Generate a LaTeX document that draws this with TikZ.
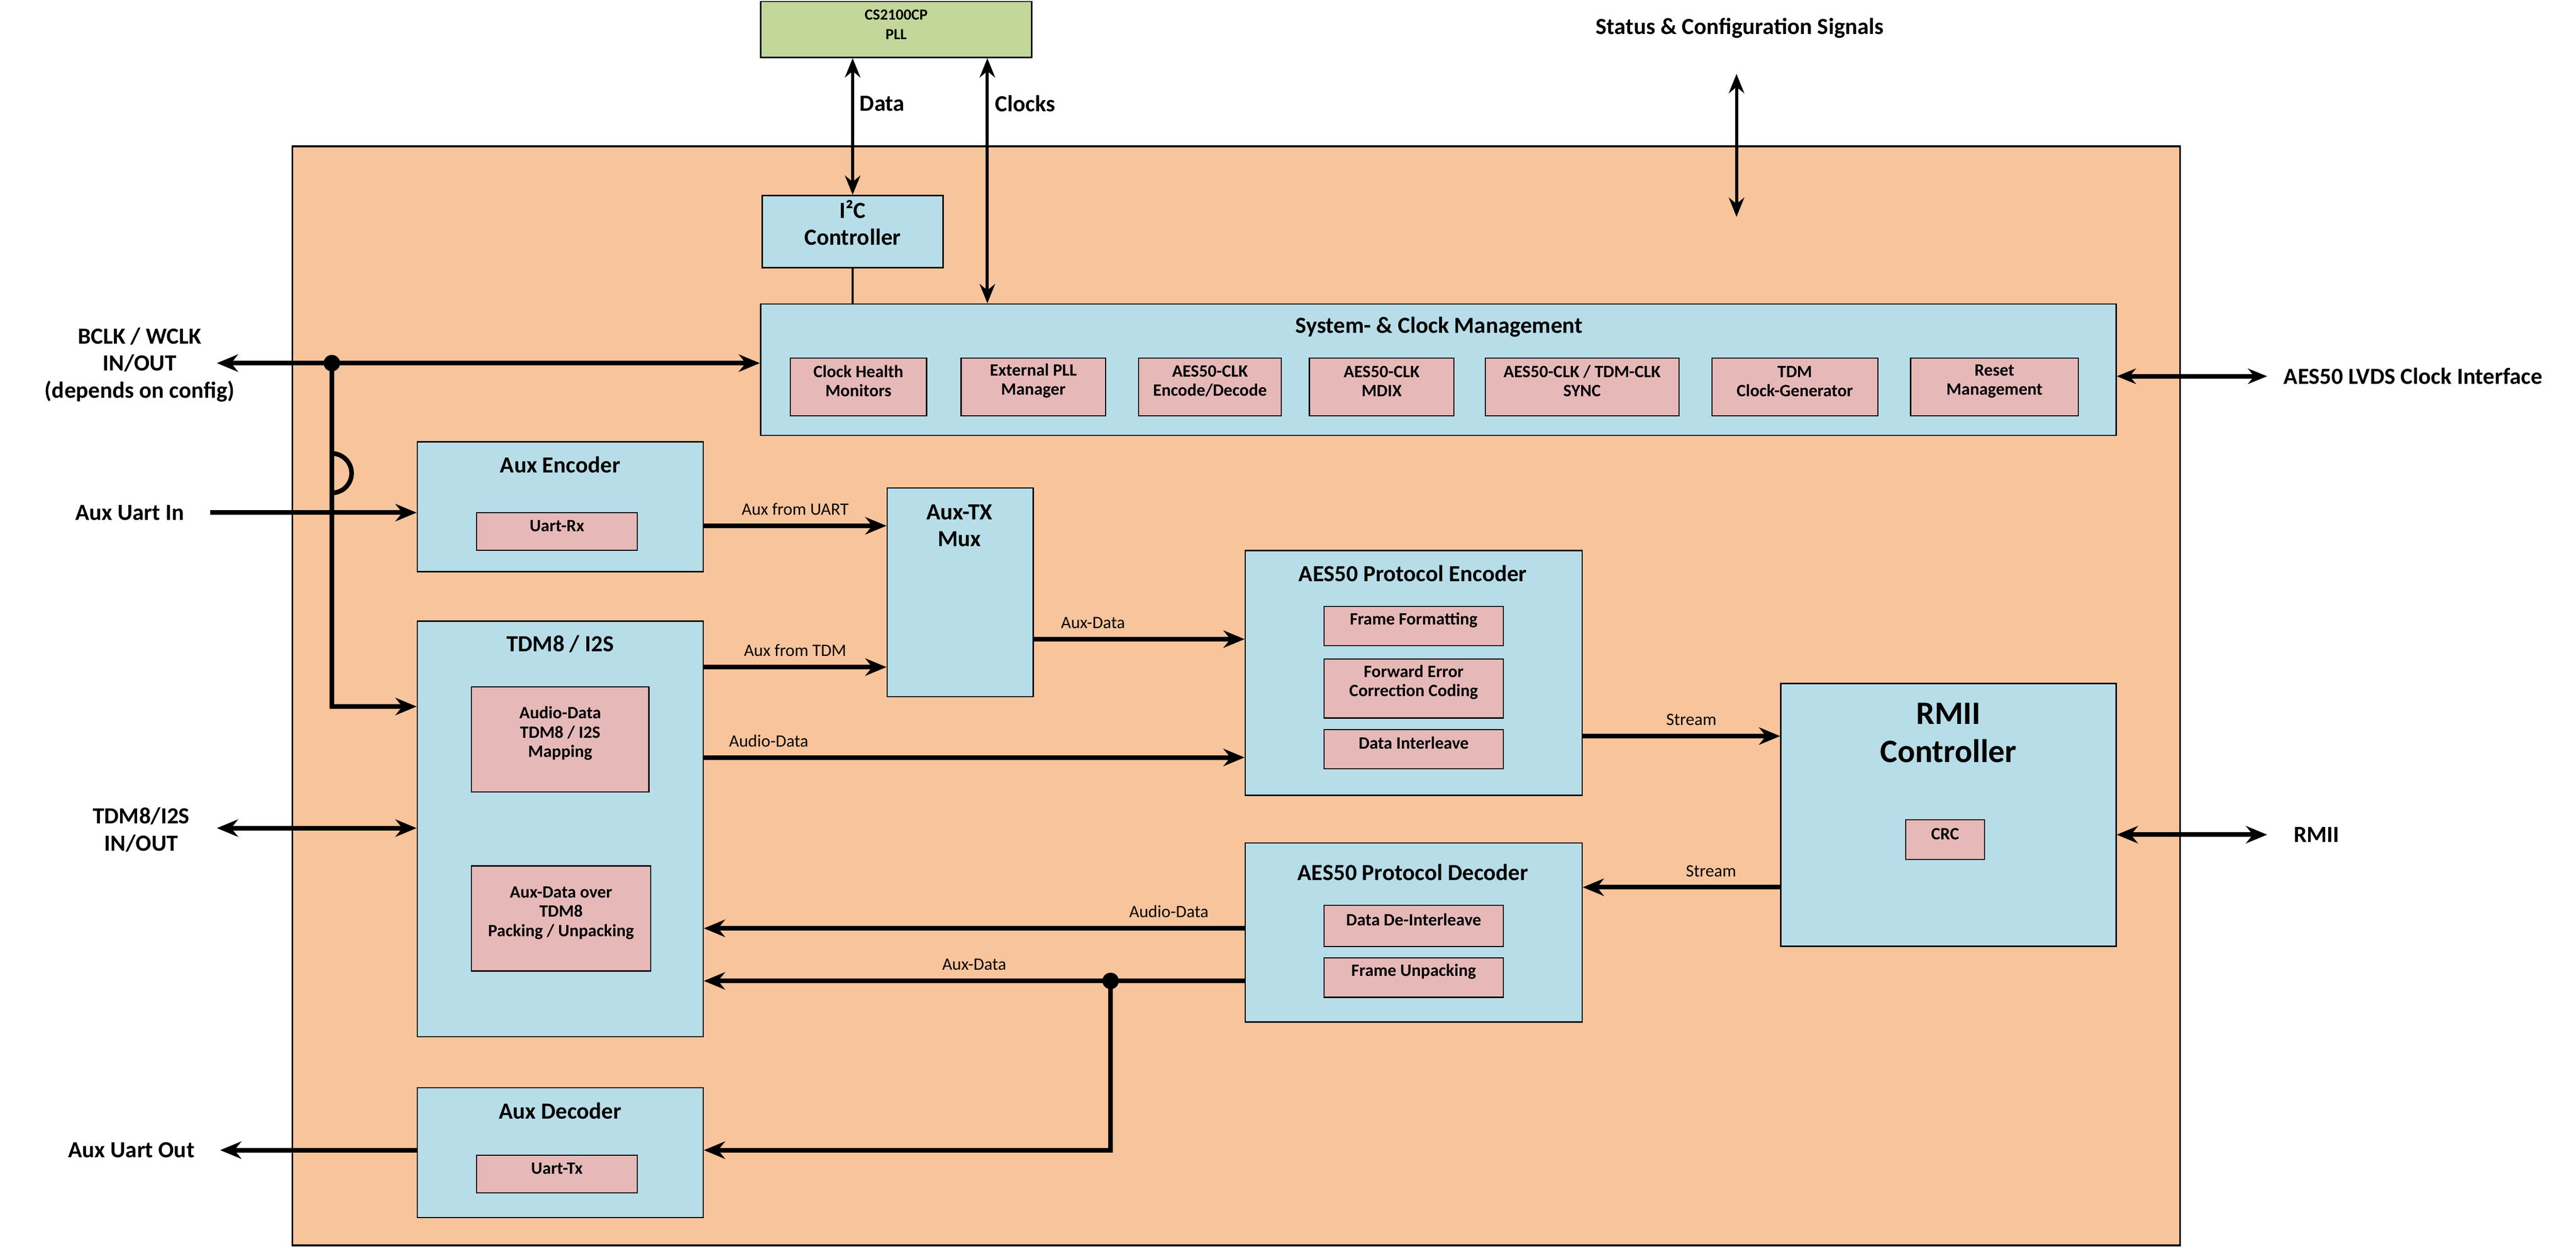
\documentclass[tikz,border=0pt]{standalone}
\usepackage{fontspec}
\setmainfont{Carlito}
\usetikzlibrary{arrows.meta,fit}
\definecolor{orng}{HTML}{F8C49B}
\definecolor{lblue}{HTML}{B7DDE8}
\definecolor{pink}{HTML}{E6B9B8}
\definecolor{lgreen}{HTML}{C4D79B}
\tikzset{
 blk/.style={draw=black,line width=0.7pt,fill=lblue,inner sep=0pt},
 sub/.style={draw=black,line width=0.6pt,fill=pink,inner sep=0pt,font=\bfseries\fontsize{9}{10}\selectfont,align=center},
 ttl/.style={font=\bfseries\fontsize{12}{14}\selectfont,align=center},
 lab/.style={font=\fontsize{9}{10}\selectfont},
 big/.style={font=\bfseries\fontsize{12}{14}\selectfont,align=center},
 con/.style={line width=2.4pt,-{Stealth[length=11pt,width=9pt]}},
 dcon/.style={line width=2.4pt,{Stealth[length=11pt,width=9pt]}-{Stealth[length=11pt,width=9pt]}},
 thin2/.style={line width=1.6pt,{Stealth[length=10pt,width=8pt]}-{Stealth[length=10pt,width=8pt]}},
}
\newcommand{\bx}[4]{\node[blk,fit={(#2,#3)(#4)}] (#1) {};}
\begin{document}
\begin{tikzpicture}[x=0.03cm,y=-0.03cm]
\useasboundingbox (0,0) rectangle (1568,760);
\fill[white] (0,0) rectangle (1568,760);
\node[draw=black,line width=1pt,fill=orng,inner sep=0pt,fit={(178,89)(1327,758)}] (main) {};
% PLL
\node[draw=black,line width=0.7pt,fill=lgreen,inner sep=0pt,fit={(463,1)(628,35)},font=\bfseries\fontsize{8}{10}\selectfont,align=center] (pll) {CS2100CP\\PLL};
% I2C
\node[blk,fit={(464,119)(574,163)},font=\bfseries\fontsize{12}{14}\selectfont,align=center] (i2c) {I²C\\Controller};
% System
\node[blk,fit={(463,185)(1288,265)}] (sys) {};
\node[ttl] at (876,199) {System- \& Clock Management};
\node[sub,fit={(481,218)(564,253)}] (s1) {Clock Health\\Monitors};
\node[sub,fit={(585,218)(673,253)}] (s2) {External PLL\\Manager};
\node[sub,fit={(693,218)(780,253)}] (s3) {AES50-CLK\\Encode/Decode};
\node[sub,fit={(797,218)(885,253)}] (s4) {AES50-CLK\\MDIX};
\node[sub,fit={(904,218)(1022,253)}] (s5) {AES50-CLK / TDM-CLK\\SYNC};
\node[sub,fit={(1042,218)(1143,253)}] (s6) {TDM\\Clock-Generator};
\node[sub,fit={(1163,218)(1265,253)}] (s7) {Reset\\Management};
% Aux encoder
\node[blk,fit={(254,269)(428,348)}] (aenc) {};
\node[ttl] at (341,283) {Aux Encoder};
\node[sub,fit={(290,312)(388,335)}] (urx) {Uart-Rx};
% Mux
\node[blk,fit={(540,297)(629,424)}] (mux) {};
\node[ttl] at (584,320) {Aux-TX\\Mux};
% TDM
\node[blk,fit={(254,378)(428,631)}] (tdm) {};
\node[ttl] at (341,392) {TDM8 / I2S};
\node[sub,fit={(287,418)(395,482)}] (tm1) {Audio-Data\\TDM8 / I2S\\Mapping};
\node[sub,fit={(287,527)(396,591)}] (tm2) {Aux-Data over\\TDM8\\Packing / Unpacking};
% Encoder
\node[blk,fit={(758,335)(963,484)}] (enc) {};
\node[ttl] at (860,349) {AES50 Protocol Encoder};
\node[sub,fit={(806,369)(915,393)}] (e1) {Frame Formatting};
\node[sub,fit={(806,401)(915,437)}] (e2) {Forward Error\\Correction Coding};
\node[sub,fit={(806,444)(915,468)}] (e3) {Data Interleave};
% Decoder
\node[blk,fit={(758,513)(963,622)}] (dec) {};
\node[ttl] at (860,531) {AES50 Protocol Decoder};
\node[sub,fit={(806,551)(915,576)}] (d1) {Data De-Interleave};
\node[sub,fit={(806,583)(915,607)}] (d2) {Frame Unpacking};
% RMII
\node[blk,fit={(1084,416)(1288,576)}] (rmii) {};
\node[font=\bfseries\fontsize{17}{20}\selectfont,align=center] at (1186,446) {RMII\\Controller};
\node[sub,fit={(1160,499)(1208,523)}] (crc) {CRC};
% Aux decoder
\node[blk,fit={(254,662)(428,741)}] (adec) {};
\node[ttl] at (341,676) {Aux Decoder};
\node[sub,fit={(290,703)(388,726)}] (utx) {Uart-Tx};
% external labels
\node[big] at (85,222) {BCLK / WCLK\\IN/OUT\\(depends on config)};
\node[big] at (79,312) {Aux Uart In};
\node[big] at (86,505) {TDM8/I2S\\IN/OUT};
\node[big] at (80,700) {Aux Uart Out};
\node[big,anchor=west] at (1386,229) {AES50 LVDS Clock Interface};
\node[big,anchor=west] at (1392,508) {RMII};
\node[big] at (1059,17) {Status \& Configuration Signals};
\node[big] at (537,63) {Data};
\node[big] at (624,63) {Clocks};
% coordinates
\coordinate (bclkL) at (132,221);
\coordinate (jb) at (202,221);
\coordinate (auxin) at (128,312);
\coordinate (tdmL) at (132,504);
\coordinate (auxout) at (134,700);
\coordinate (lvds) at (1380,229);
\coordinate (rmiiR) at (1380,508);
\coordinate (stT) at (1057,45);
\coordinate (stB) at (1057,132);
% top connectors
\draw[thin2] (pll.south -| 519,0) -- (i2c.north -| 519,0);
\draw[thin2] (pll.south -| 601,0) -- (sys.north -| 601,0);
\draw[line width=1pt] (i2c.south -| 519,0) -- (sys.north -| 519,0);
\draw[thin2] (stT) -- (stB);
\draw[thin2,line width=2.4pt] (sys.east |- lvds) -- (lvds);
% BCLK
\draw[con] (jb) -- (bclkL);
\draw[con] (jb) -- (sys.west |- jb);
\draw[line width=2.4pt,-{Stealth[length=11pt,width=9pt]}] (jb) -- (202,300) arc[start angle=-90,end angle=90,radius=12,y radius=-12] -- (202,430) -- (tdm.west |- 0,430);
\fill (jb) circle (5);
\draw[con] (auxin) -- (aenc.west |- auxin);
\draw[dcon] (tdmL) -- (tdm.west |- tdmL);
\draw[con] (adec.west |- auxout) -- (auxout);
% internal
\draw[con] (aenc.east |- 0,320) -- node[lab,above=1pt] {Aux from UART} (mux.west |- 0,320);
\draw[con] (tdm.east |- 0,406) -- node[lab,above=1pt] {Aux from TDM} (mux.west |- 0,406);
\draw[con] (mux.east |- 0,389) -- node[lab,above=1pt,pos=0.28] {Aux-Data} (enc.west |- 0,389);
\draw[con] (tdm.east |- 0,461) -- node[lab,above=1pt,pos=0.12] {Audio-Data} (enc.west |- 0,461);
\draw[con] (enc.east |- 0,448) -- node[lab,above=1pt,pos=0.55] {Stream} (rmii.west |- 0,448);
\draw[con] (rmii.west |- 0,540) -- node[lab,above=1pt,pos=0.35] {Stream} (dec.east |- 0,540);
\draw[dcon] (rmii.east |- rmiiR) -- (rmiiR);
\draw[con] (dec.west |- 0,565) -- node[lab,above=1pt,pos=0.14] {Audio-Data} (tdm.east |- 0,565);
\coordinate (ja) at (676,597);
\draw[con] (dec.west |- ja) -- node[lab,above=1pt,pos=0.5] {Aux-Data} (tdm.east |- ja);
\draw[con] (ja) -- (676,700) -- (adec.east |- 0,700);
\fill (ja) circle (5);
\end{tikzpicture}
\end{document}
